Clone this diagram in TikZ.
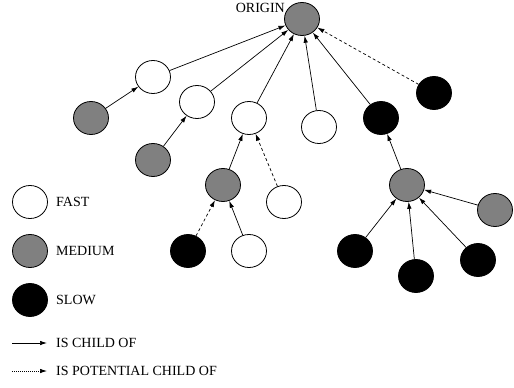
\documentclass[tikz,border=0pt]{standalone}
\usepackage{fontspec}
\setmainfont{Liberation Serif}
\usetikzlibrary{shapes.geometric,arrows.meta}

\tikzset{
	knoten/.style={ellipse, draw, line width=0.8pt, minimum width=35pt, minimum height=33pt, inner sep=0pt},
	fast/.style={knoten, fill=white},
	medium/.style={knoten, fill=black!50},
	slow/.style={knoten, fill=black},
	kind/.style={-{Latex[length=7pt,width=4.5pt]}, line width=0.7pt},
	potkind/.style={kind, dash pattern=on 3pt off 2.5pt},
	legtext/.style={anchor=west, inner sep=0pt, font=\fontsize{14}{16}\selectfont}
}

\begin{document}
\begin{tikzpicture}[x=1pt, y=-1pt]
		\useasboundingbox (0,0) rectangle (514,388);
		
		% zeichne Knoten
		\node[medium] (origin) at (302,19) {};
		\node[legtext, anchor=east] (originlabel) at (285,8) {ORIGIN};
		\node[fast] (a) at (153,77) {};
		\node[medium] (b) at (91,118) {};
		\node[fast] (c) at (197,102) {};
		\node[medium] (d) at (153,160) {};
		\node[fast] (e) at (249,118) {};
		\node[fast] (f) at (319,127) {};
		\node[slow] (g) at (381,118) {};
		\node[slow] (h) at (434,93) {};
		\node[medium] (i) at (223,185) {};
		\node[fast] (j) at (284,202) {};
		\node[slow] (k) at (188,251) {};
		\node[fast] (l) at (249,251) {};
		\node[medium] (m) at (407,185) {};
		\node[medium] (n) at (495,210) {};
		\node[slow] (o) at (355,251) {};
		\node[slow] (p) at (416,276) {};
		\node[slow] (q) at (478,260) {};
		
		% zeichne Kanten
		\draw[kind] (a) -- (origin);
		\draw[kind] (b) -- (a);
		\draw[kind] (c) -- (origin);
		\draw[kind] (d) -- (c);
		\draw[kind] (e) -- (origin);
		\draw[kind] (f) -- (origin);
		\draw[kind] (g) -- (origin);
		\draw[potkind] (h) -- (origin);
		\draw[kind] (i) -- (e);
		\draw[potkind] (j) -- (e);
		\draw[potkind] (k) -- (i);
		\draw[kind] (l) -- (i);
		\draw[kind] (m) -- (g);
		\draw[kind] (n) -- (m);
		\draw[kind] (o) -- (m);
		\draw[kind] (p) -- (m);
		\draw[kind] (q) -- (m);
		
		% zeichne Legende
		\node[fast] (legfast) at (30,202) {};
		\node[legtext] (legfasttext) at (56,202) {FAST};
		\node[medium] (legmedium) at (30,251) {};
		\node[legtext] (legmediumtext) at (56,251) {MEDIUM};
		\node[slow] (legslow) at (30,300) {};
		\node[legtext] (legslowtext) at (56,300) {SLOW};
		
		\coordinate (kinda) at (12,343);
		\coordinate (kindb) at (47,343);
		\draw[kind] (kinda) -- (kindb);
		\node[legtext] (kindtext) at (56,343) {IS CHILD OF};
		
		\coordinate (potkinda) at (12,371);
		\coordinate (potkindb) at (47,371);
		\draw[kind, dash pattern=on 1pt off 1pt] (potkinda) -- (potkindb);
		\node[legtext] (potkindtext) at (56,371) {IS POTENTIAL CHILD OF};
	\end{tikzpicture}
\end{document}
